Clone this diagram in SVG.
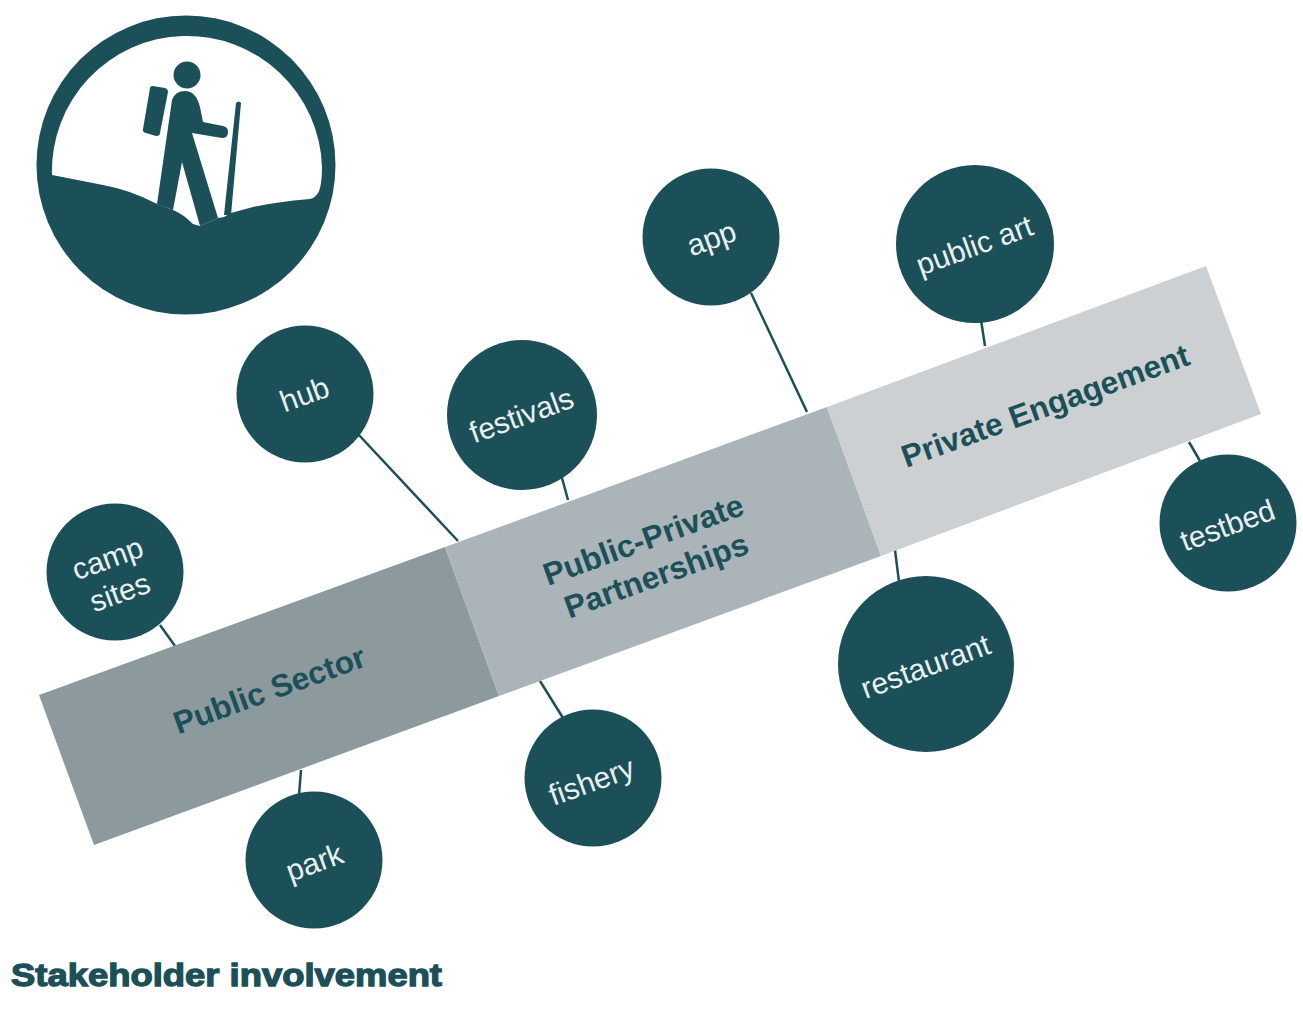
<svg xmlns="http://www.w3.org/2000/svg" width="1303" height="1018" viewBox="0 0 1303 1018">
<style>
.n{fill:#1c5058}
.t{font-family:"Liberation Sans",Arial,sans-serif;font-size:30px;fill:#eaf0f0;text-anchor:middle}
.b{font-family:"Liberation Sans",Arial,sans-serif;font-size:31.600px;font-weight:bold;fill:#1c5058;text-anchor:middle}
.c line{stroke:#1c5058;stroke-width:2.5}
</style>
<rect width="1303" height="1018" fill="#fff"/>
<g id="icon">
<circle cx="186" cy="165" r="149.500" class="n"/>
<path d="M52 175A134.500 134.500 0 1 1 322 167Q322 180 320 188Q318 197 310 199Q275 202 253 207L231 213L224 217L218 218L200 226L193 224Q183 214 173 210L155 203Q130 190 103 185Z" fill="#fff"/>
<circle cx="187" cy="75" r="13.500" class="n"/>
<path d="M172 100Q175 91 185 91Q196 91 200 107L203 122L223 126Q228 127 228 132Q228 138 222 138L198 134L192 133L218 218L200 226L182 162L173 210L157 204Z" class="n"/>
<path d="M153 86L165 88Q168 89 168 92L160 133Q160 136 156 136L146 133Q142 132 143 129L150 88Q150 86 153 86Z" class="n"/>
<path d="M236 103Q239 100 241 103L231 215L224 215Z" class="n"/>
</g>
<g id="connectors" class="c">
<line x1="358" y1="434" x2="458" y2="541"/>
<line x1="751" y1="293" x2="807" y2="412"/>
<line x1="562" y1="478" x2="568" y2="500"/>
<line x1="981" y1="320" x2="985" y2="346"/>
<line x1="160" y1="625" x2="175" y2="646"/>
<line x1="540" y1="681" x2="563" y2="718"/>
<line x1="301" y1="770" x2="299" y2="795"/>
<line x1="895" y1="550" x2="899" y2="582"/>
<line x1="1189" y1="442" x2="1200" y2="461"/>
</g>
<g id="public-sector">
<polygon points="39,695 445,547 499,696 94,845" fill="#8c9a9e"/>
<text class="b" transform="translate(273 700) rotate(-20)">Public Sector</text>
</g>
<g id="public-private">
<polygon points="445,547 827,407 881,556 499,696" fill="#abb4b8"/>
<text class="b" transform="translate(647 550) rotate(-20)"><tspan x="0" y="0">Public-Private</tspan><tspan x="0" y="38">Partnerships</tspan></text>
</g>
<g id="private-engagement">
<polygon points="827,407 1206,266 1261,414 881,556" fill="#ccd0d3"/>
<text class="b" transform="translate(1049 416) rotate(-20)">Private Engagement</text>
</g>
<g id="hub"><circle cx="305" cy="394" r="68.500" class="n"/><text class="t" transform="translate(308 404) rotate(-20)">hub</text></g>
<g id="festivals"><circle cx="522" cy="415" r="75" class="n"/><text class="t" transform="translate(525 425) rotate(-20)">festivals</text></g>
<g id="app"><circle cx="711" cy="237" r="68.500" class="n"/><text class="t" transform="translate(715 248) rotate(-20)">app</text></g>
<g id="public-art"><circle cx="975" cy="244" r="79" class="n"/><text class="t" transform="translate(978 255) rotate(-20)">public art</text></g>
<g id="camp-sites"><circle cx="115" cy="572" r="68.500" class="n"/><text class="t" transform="translate(111 568) rotate(-20)"><tspan x="0" y="0">camp</tspan><tspan x="0" y="36">sites</tspan></text></g>
<g id="park"><circle cx="314" cy="860" r="68.500" class="n"/><text class="t" transform="translate(318 872) rotate(-20)">park</text></g>
<g id="fishery"><circle cx="593" cy="778" r="68.500" class="n"/><text class="t" transform="translate(595 791) rotate(-20)">fishery</text></g>
<g id="restaurant"><circle cx="926" cy="664" r="88" class="n"/><text class="t" transform="translate(929 676) rotate(-20)">restaurant</text></g>
<g id="testbed"><circle cx="1228" cy="523" r="68.500" class="n"/><text class="t" transform="translate(1231 535) rotate(-20)">testbed</text></g>
<text id="caption" x="11" y="986" font-family="'Liberation Sans',Arial,sans-serif" font-weight="bold" font-size="32" fill="#1c5058" stroke="#1c5058" stroke-width="1.300" textLength="431" lengthAdjust="spacingAndGlyphs">Stakeholder involvement</text>
</svg>
